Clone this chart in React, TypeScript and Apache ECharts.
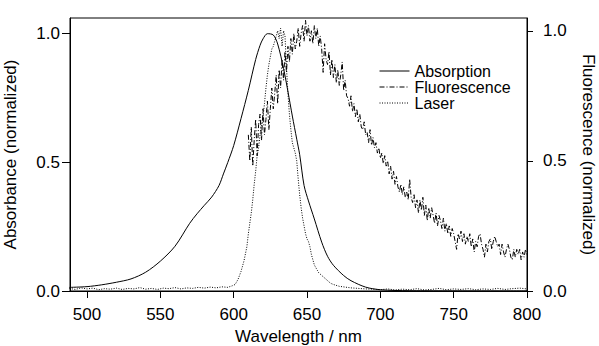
import React, { useEffect, useRef } from "react";
import * as echarts from "echarts";

const absWavelengths = [488, 500, 510, 520, 530, 540, 550, 560, 570, 575, 580, 585, 590, 593, 596, 600, 605, 610, 615, 618, 620, 623, 627, 630, 634, 637, 640, 643, 645, 648, 651, 655, 660, 664, 668, 675, 680, 690, 700, 720, 800];
const absValues = [0.014, 0.017, 0.024, 0.034, 0.047, 0.073, 0.116, 0.174, 0.263, 0.300, 0.333, 0.365, 0.410, 0.455, 0.500, 0.565, 0.670, 0.780, 0.900, 0.955, 0.980, 1.000, 0.995, 0.960, 0.865, 0.775, 0.680, 0.590, 0.530, 0.410, 0.350, 0.280, 0.190, 0.135, 0.100, 0.060, 0.040, 0.015, 0.005, 0.001, 0.000];

const fluoStart = 610;
const fluoValues = [
  0.60, 0.50, 0.63, 0.48, 0.58, 0.66, 0.52, 0.64, 0.68, 0.58,
  0.70, 0.60, 0.66, 0.73, 0.62, 0.70, 0.78, 0.70, 0.76, 0.83,
  0.72, 0.85, 0.78, 0.89, 0.81, 0.92, 0.84, 0.94, 0.88, 0.97,
  0.91, 0.99, 0.93, 0.96, 1.01, 0.94, 0.99, 1.02, 0.96, 1.04,
  0.98, 1.02, 0.96, 1.00, 0.95, 1.02, 0.97, 1.01, 0.94, 0.98,
  0.93, 0.84, 0.95, 0.89, 0.87, 0.92, 0.83, 0.89, 0.82, 0.87,
  0.80, 0.85, 0.79, 0.83, 0.88, 0.77, 0.81, 0.75, 0.74, 0.71,
  0.75, 0.69, 0.72, 0.67, 0.70, 0.65, 0.68, 0.63, 0.62, 0.65,
  0.60, 0.61, 0.57, 0.62, 0.56, 0.59, 0.55, 0.57, 0.53, 0.55,
  0.51, 0.53, 0.49, 0.52, 0.48, 0.50, 0.45, 0.48, 0.43, 0.46,
  0.41, 0.44, 0.40, 0.38, 0.41, 0.37, 0.40, 0.36, 0.38, 0.35,
  0.43, 0.36, 0.34, 0.37, 0.32, 0.35, 0.30, 0.35, 0.31, 0.36,
  0.29, 0.33, 0.27, 0.32, 0.28, 0.32, 0.29, 0.26, 0.30, 0.25,
  0.29, 0.27, 0.24, 0.28, 0.23, 0.26, 0.22, 0.25, 0.21, 0.24,
  0.22, 0.19, 0.16, 0.22, 0.20, 0.23, 0.19, 0.22, 0.18, 0.21,
  0.19, 0.22, 0.17, 0.20, 0.15, 0.19, 0.17, 0.21, 0.22, 0.18,
  0.16, 0.13, 0.18, 0.15, 0.19, 0.20, 0.16, 0.19, 0.21, 0.19,
  0.17, 0.18, 0.14, 0.18, 0.15, 0.13, 0.16, 0.18, 0.16, 0.13,
  0.12, 0.16, 0.13, 0.16, 0.14, 0.16, 0.12, 0.15, 0.13, 0.16,
  0.14,
];

const laserWavelengths = [488, 492, 496, 500, 504, 508, 512, 516, 520, 524, 528, 532, 536, 540, 544, 548, 552, 556, 560, 564, 568, 572, 576, 580, 584, 588, 592, 596, 599, 601, 603, 605, 607, 609, 610, 611, 612, 613, 614, 615, 616, 617, 618, 619, 620, 621, 622, 623, 624, 625, 626, 627, 628, 629, 630, 631, 632, 633, 634, 635, 636, 637, 638, 639, 640, 641, 642, 643, 644, 645, 646, 647, 648, 649, 650, 651, 652, 653, 654, 655, 656, 657, 658, 660, 662, 664, 666, 668, 672, 676, 680, 685, 690, 695, 700, 705, 710, 715, 720, 725, 730, 735, 740, 745, 750, 755, 760, 765, 770, 775, 780, 785, 790, 795, 800];
const laserValues = [0.010, 0.006, 0.012, 0.008, 0.011, 0.005, 0.009, 0.007, 0.011, 0.006, 0.010, 0.008, 0.013, 0.007, 0.010, 0.006, 0.011, 0.009, 0.013, 0.008, 0.012, 0.010, 0.014, 0.011, 0.015, 0.012, 0.016, 0.014, 0.020, 0.025, 0.045, 0.075, 0.115, 0.170, 0.220, 0.260, 0.300, 0.350, 0.410, 0.460, 0.520, 0.550, 0.600, 0.640, 0.670, 0.720, 0.780, 0.830, 0.870, 0.900, 0.930, 0.940, 0.960, 0.980, 1.000, 0.970, 1.010, 0.940, 1.000, 0.980, 0.860, 0.760, 0.680, 0.620, 0.570, 0.550, 0.530, 0.500, 0.430, 0.370, 0.320, 0.280, 0.250, 0.220, 0.200, 0.190, 0.170, 0.140, 0.120, 0.100, 0.090, 0.080, 0.070, 0.060, 0.050, 0.040, 0.030, 0.025, 0.018, 0.015, 0.012, 0.010, 0.008, 0.007, 0.005, 0.008, 0.004, 0.007, 0.005, 0.009, 0.004, 0.006, 0.010, 0.005, 0.008, 0.006, 0.009, 0.005, 0.008, 0.006, 0.010, 0.006, 0.009, 0.011, 0.008];

const xTicks = [500, 550, 600, 650, 700, 750, 800];
const yTicks = [0, 0.5, 1.0];

const FONT = "Liberation Sans";

export default function App() {
  const ref = useRef<HTMLDivElement>(null);
  useEffect(() => {
    document.body.style.margin = "0";
    const chart = echarts.init(ref.current!, null, { renderer: "svg" });
    const absData = absWavelengths.map((w, i) => [w, absValues[i]]);
    const fluoData = fluoValues.map((v, i) => [fluoStart + i, v]);
    const laserData = laserWavelengths.map((w, i) => [w, laserValues[i]]);
    const axisLine = { show: true, lineStyle: { color: "#000", width: 1 } };
    chart.setOption({
      animation: false,
      backgroundColor: "#fff",
      textStyle: { fontFamily: FONT, color: "#000" },
      grid: {
        left: 70,
        right: 72,
        top: 18,
        bottom: 55,
        containLabel: false,
        outerBoundsMode: "none",
        show: true,
        borderColor: "#000",
        borderWidth: 1,
        backgroundColor: "transparent",
      },
      legend: {
        orient: "vertical",
        left: 374,
        top: 58,
        itemWidth: 30,
        itemHeight: 12,
        itemGap: 0,
        itemStyle: { opacity: 0 },
        lineStyle: { width: 1 },
        textStyle: { fontFamily: FONT, fontSize: 16, color: "#000" },
        data: ["Absorption", "Fluorescence", "Laser"],
      },
      xAxis: {
        type: "value",
        min: 488.4,
        max: 800,
        name: "Wavelength / nm",
        nameLocation: "middle",
        nameGap: 36,
        nameTextStyle: { fontFamily: FONT, fontSize: 17, color: "#000" },
        axisLine,
        splitLine: { show: false },
        axisTick: { show: true, customValues: xTicks, length: 7, inside: false, lineStyle: { color: "#000" } },
        axisLabel: {
          customValues: xTicks,
          margin: 15,
          fontFamily: FONT,
          fontSize: 17,
          color: "#000",
          formatter: (v: number) => String(v),
        },
      },
      yAxis: [
        {
          type: "value",
          position: "left",
          min: 0,
          max: 1.061,
          name: "Absorbance (normalized)",
          nameLocation: "middle",
          nameGap: 51,
          nameTextStyle: { fontFamily: FONT, fontSize: 17, color: "#000" },
          axisLine,
          splitLine: { show: false },
          axisTick: { show: true, customValues: yTicks, length: 8, lineStyle: { color: "#000" } },
          axisLabel: {
            customValues: yTicks,
            margin: 10,
            fontFamily: FONT,
            fontSize: 17,
            color: "#000",
            formatter: (v: number) => v.toFixed(1),
          },
        },
        {
          type: "value",
          position: "right",
          min: 0,
          max: 1.049,
          name: "Fluorescence (normalized)",
          nameLocation: "middle",
          nameGap: 53,
          nameRotate: -90,
          nameTextStyle: { fontFamily: FONT, fontSize: 17, color: "#000" },
          axisLine,
          splitLine: { show: false },
          axisTick: { show: true, customValues: yTicks, length: 6, lineStyle: { color: "#000" } },
          axisLabel: {
            customValues: yTicks,
            margin: 16,
            fontFamily: FONT,
            fontSize: 17,
            color: "#000",
            formatter: (v: number) => v.toFixed(1),
          },
        },
      ],
      series: [
        {
          name: "Absorption",
          type: "line",
          yAxisIndex: 0,
          data: absData,
          showSymbol: false,
          symbol: "none",
          smooth: 0.3,
          lineStyle: { color: "#000", width: 1, type: "solid" },
          itemStyle: { color: "#000" },
        },
        {
          name: "Fluorescence",
          type: "line",
          yAxisIndex: 1,
          data: fluoData,
          showSymbol: false,
          symbol: "none",
          lineStyle: { color: "#000", width: 1, type: [5, 2, 1, 2] },
          itemStyle: { color: "#000" },
        },
        {
          name: "Laser",
          type: "line",
          yAxisIndex: 1,
          data: laserData,
          showSymbol: false,
          symbol: "none",
          lineStyle: { color: "#000", width: 1, type: [1, 1.5] },
          itemStyle: { color: "#000" },
        },
      ],
    });
    return () => chart.dispose();
  }, []);
  return <div ref={ref} style={{ width: 599, height: 346 }} />;
}
